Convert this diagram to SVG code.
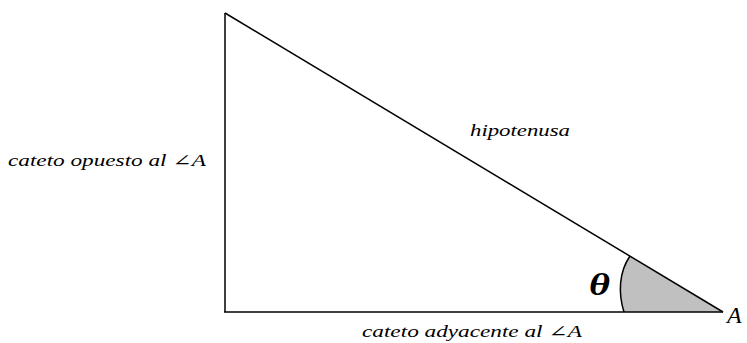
<svg xmlns="http://www.w3.org/2000/svg" width="747" height="343" viewBox="0 0 747 343">
<style>
text{font-family:'Liberation Serif','DejaVu Serif',serif;font-style:italic;fill:#000}
.edge{stroke:#000;stroke-width:1.5;fill:none}
</style>
<rect width="747" height="343" fill="#fff"/>
<g id="angle">
<path d="M624,312 C618,293 619,272 630,256 L723,312 Z" fill="#c0c0c0" stroke="none"/>
<path d="M624,312 C618,293 619,272 630,256" class="edge"/>
</g>
<g id="connectors">
<line x1="225" y1="13" x2="225" y2="312" class="edge"/>
<line x1="224" y1="312" x2="723" y2="312" class="edge" stroke-width="2"/>
<line x1="225" y1="13" x2="723" y2="312" class="edge"/>
</g>
<g id="labels">
<text x="8" y="166" font-size="16" textLength="198" lengthAdjust="spacingAndGlyphs">cateto opuesto al ∠A</text>
<text x="470" y="136" font-size="16" textLength="100" lengthAdjust="spacingAndGlyphs">hipotenusa</text>
<text x="362" y="337" font-size="16" textLength="220" lengthAdjust="spacingAndGlyphs">cateto adyacente al ∠A</text>
<text x="589" y="295" font-size="31" font-weight="bold" textLength="21" lengthAdjust="spacingAndGlyphs">θ</text>
<text x="727" y="323" font-size="24">A</text>
</g>
</svg>
